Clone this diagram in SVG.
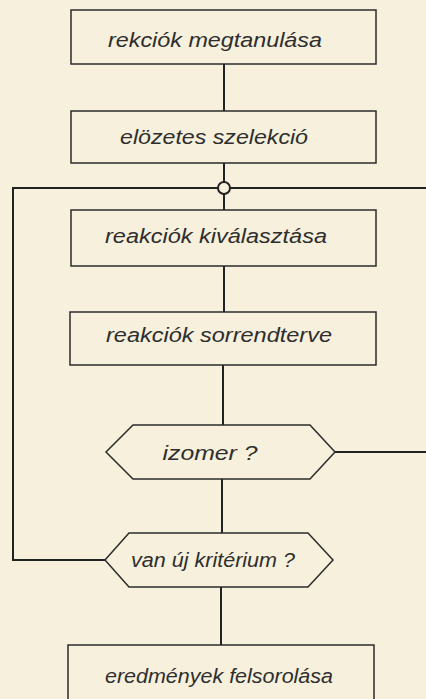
<svg xmlns="http://www.w3.org/2000/svg" width="426" height="699" viewBox="0 0 426 699">
<style>
.bg{fill:#f6f0dc}
.box{fill:none;stroke:#2b2b2b;stroke-width:1.5}
.con{fill:none;stroke:#222;stroke-width:2}
.lbl{font-family:"Liberation Sans",Arial,sans-serif;font-style:italic;font-size:20px;fill:#2e2e2e;text-anchor:middle}
</style>
<rect class="bg" x="0" y="0" width="426" height="699"/>
<g id="connectors">
<line class="con" x1="224" y1="64" x2="224" y2="111"/>
<line class="con" x1="224" y1="163" x2="224" y2="182"/>
<line class="con" x1="224" y1="194" x2="224" y2="210"/>
<polyline class="con" points="218,188 13,188 13,560 105,560"/>
<line class="con" x1="230" y1="188" x2="426" y2="188"/>
<circle class="con" cx="224" cy="188" r="6" fill="#fbf7ea"/>
<line class="con" x1="224" y1="266" x2="224" y2="312"/>
<line class="con" x1="223" y1="365" x2="223" y2="425"/>
<line class="con" x1="335" y1="452" x2="426" y2="452"/>
<line class="con" x1="222" y1="479" x2="222" y2="533"/>
<line class="con" x1="221" y1="587" x2="221" y2="645"/>
</g>
<g id="n1">
<rect class="box" x="71" y="10" width="305" height="54"/>
<text class="lbl" x="215" y="47" textLength="214" lengthAdjust="spacingAndGlyphs">rekciók megtanulása</text>
</g>
<g id="n2">
<rect class="box" x="71" y="111" width="305" height="52"/>
<text class="lbl" x="214" y="144" textLength="188" lengthAdjust="spacingAndGlyphs">elözetes  szelekció</text>
</g>
<g id="n3">
<rect class="box" x="71" y="210" width="305" height="56"/>
<text class="lbl" x="216" y="243" textLength="222" lengthAdjust="spacingAndGlyphs">reakciók kiválasztása</text>
</g>
<g id="n4">
<rect class="box" x="70" y="312" width="306" height="53"/>
<text class="lbl" x="219" y="342" textLength="226" lengthAdjust="spacingAndGlyphs">reakciók sorrendterve</text>
</g>
<g id="n5">
<polygon class="box" points="106,452 133,425 310,425 335,452 310,479 133,479"/>
<text class="lbl" x="210" y="460" textLength="95" lengthAdjust="spacingAndGlyphs">izomer ?</text>
</g>
<g id="n6">
<polygon class="box" points="105,560 129,533 308,533 333,560 308,587 129,587"/>
<text class="lbl" x="213" y="567" textLength="164" lengthAdjust="spacingAndGlyphs">van új kritérium ?</text>
</g>
<g id="n7">
<rect class="box" x="68" y="645" width="306" height="60"/>
<text class="lbl" x="219" y="683" textLength="228" lengthAdjust="spacingAndGlyphs">eredmények  felsorolása</text>
</g>
</svg>
